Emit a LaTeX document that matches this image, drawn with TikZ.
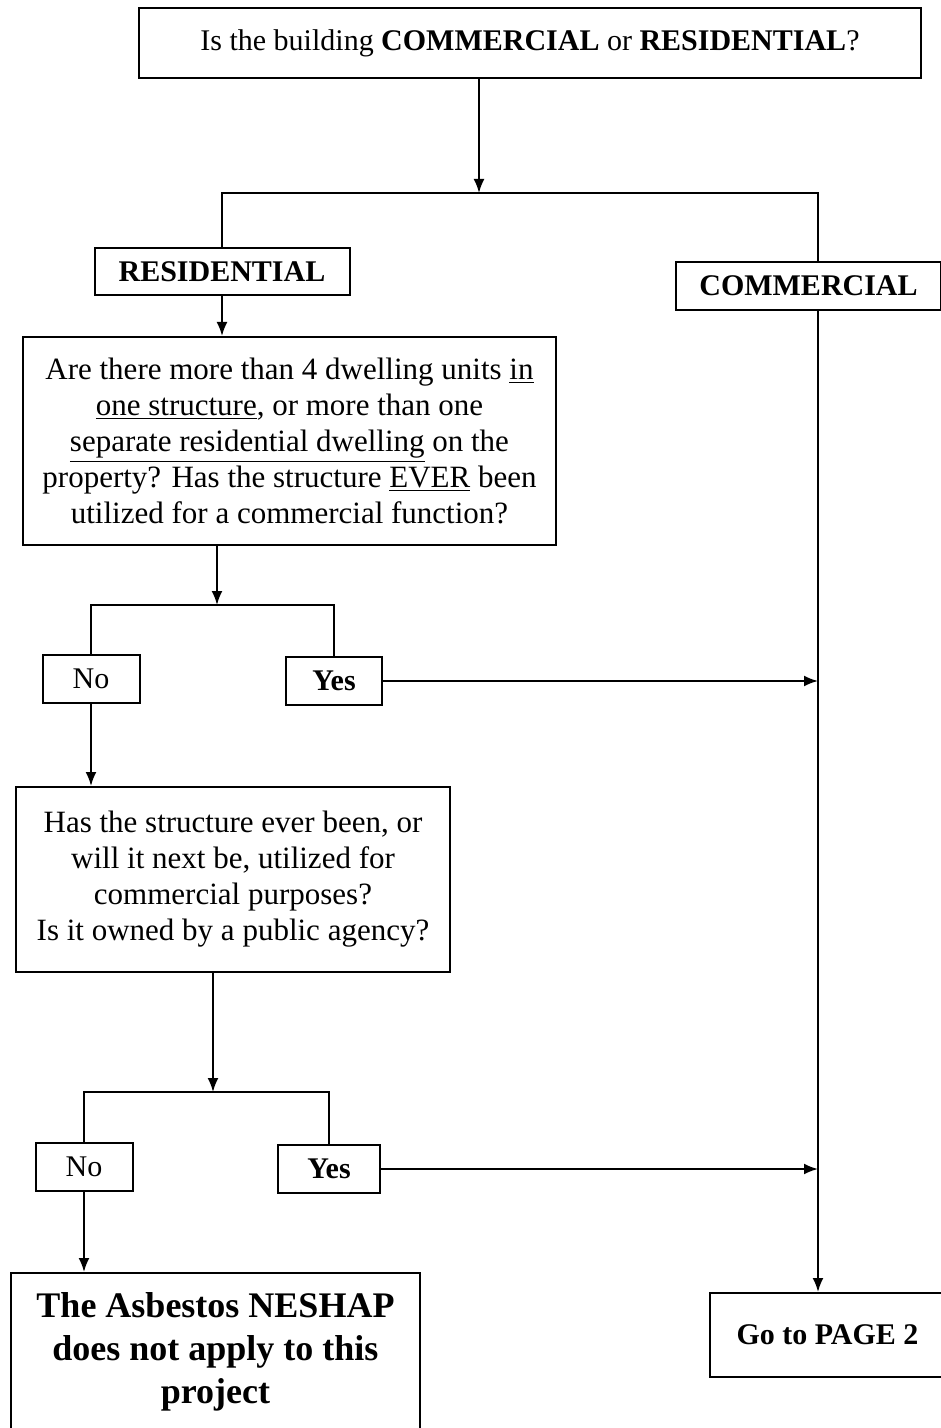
\documentclass[tikz,border=0pt]{standalone}
\usepackage{fontspec}
\setmainfont{Liberation Serif}
\usetikzlibrary{arrows, arrows.meta, positioning}

\begin{document}
\begin{tikzpicture}[
  x=0.5pt, y=-0.5pt, % one unit is one pixel of the scanned chart
  line width=1pt,
  >={Latex[length=7pt,width=5.5pt]},
  box/.style={draw, align=center, inner sep=0pt, font=\fontsize{15.5}{18}\selectfont},
  tag/.style={draw, inner sep=0pt, font=\fontsize{15}{18}\selectfont},
  stop/.style={draw, align=center, inner sep=0pt, font=\bfseries\fontsize{18}{21.5}\selectfont}
  ]
  \useasboundingbox (0,0) rectangle (941,1428);
  \clip (0,0) rectangle (941,1428);

  % junctions and the commercial trunk
  \coordinate (j0) at (479,193);
  \coordinate (j1) at (217,605);
  \coordinate (j2) at (213,1092);
  \coordinate (trunk) at (818,0);

  \node[box, minimum width=391pt, minimum height=35pt, font=\fontsize{15}{18}\selectfont] (building) at (530,43)
    {Is the building \textbf{COMMERCIAL} or \textbf{RESIDENTIAL}?};
  \node[tag, font=\bfseries\fontsize{15}{18}\selectfont, minimum width=127.5pt, minimum height=23.5pt] (res) at (222,271.5) {RESIDENTIAL};
  \node[tag, font=\bfseries\fontsize{15}{18}\selectfont, minimum width=132.5pt, minimum height=24pt] (com) at (808.5,286) {COMMERCIAL};

  \node[box, minimum width=266.5pt, minimum height=104pt] (units) at (289.5,441)
    {Are there more than 4 dwelling units \underline{in}\\
     \underline{one structure}, or more than one\\
     \underline{separate residential dwelling} on the\\
     property? Has the structure \underline{EVER} been\\
     utilized for a commercial function?};

  \node[tag, minimum width=48.5pt, minimum height=24pt] (no1) at (91,679) {No};
  \node[tag, font=\bfseries\fontsize{15}{18}\selectfont, minimum width=48pt, minimum height=24pt] (yes1) at (334,681) {Yes};

  \node[box, minimum width=217pt, minimum height=92.5pt] (public) at (233,879.5)
    {Has the structure ever been, or\\
     will it next be, utilized for\\
     commercial purposes?\\
     Is it owned by a public agency?};

  \node[tag, minimum width=48.5pt, minimum height=24pt] (no2) at (84,1167) {No};
  \node[tag, font=\bfseries\fontsize{15}{18}\selectfont, minimum width=51pt, minimum height=24pt] (yes2) at (329,1169) {Yes};

  \node[stop, minimum width=204.5pt, minimum height=79pt] (neshap) at (215.5,1352)
    {The Asbestos NESHAP\\ does not apply to this\\ project};
  \node[tag, font=\bfseries\fontsize{15}{18}\selectfont, minimum width=117.5pt, minimum height=42pt] (page2) at (827.5,1335) {Go to PAGE 2};

  % connectors
  \draw[->] (building.south -| j0) -- (j0);
  \draw (res.north) |- (j0) -| (com.north -| trunk);
  \draw[->] (res.south) -- (units.north -| res.south);
  \draw[->] (units.south -| j1) -- (j1);
  \draw (no1.north) |- (j1) -| (yes1.north);
  \draw[->] (yes1.east) -- (yes1.east -| trunk);
  \draw[->] (no1.south) -- (no1.south |- public.north);
  \draw[->] (public.south -| j2) -- (j2);
  \draw (no2.north) |- (j2) -| (yes2.north);
  \draw[->] (yes2.east) -- (yes2.east -| trunk);
  \draw[->] (no2.south) -- (no2.south |- neshap.north);
  \draw[->] (com.south -| trunk) -- (page2.north -| trunk);
\end{tikzpicture}
\end{document}
